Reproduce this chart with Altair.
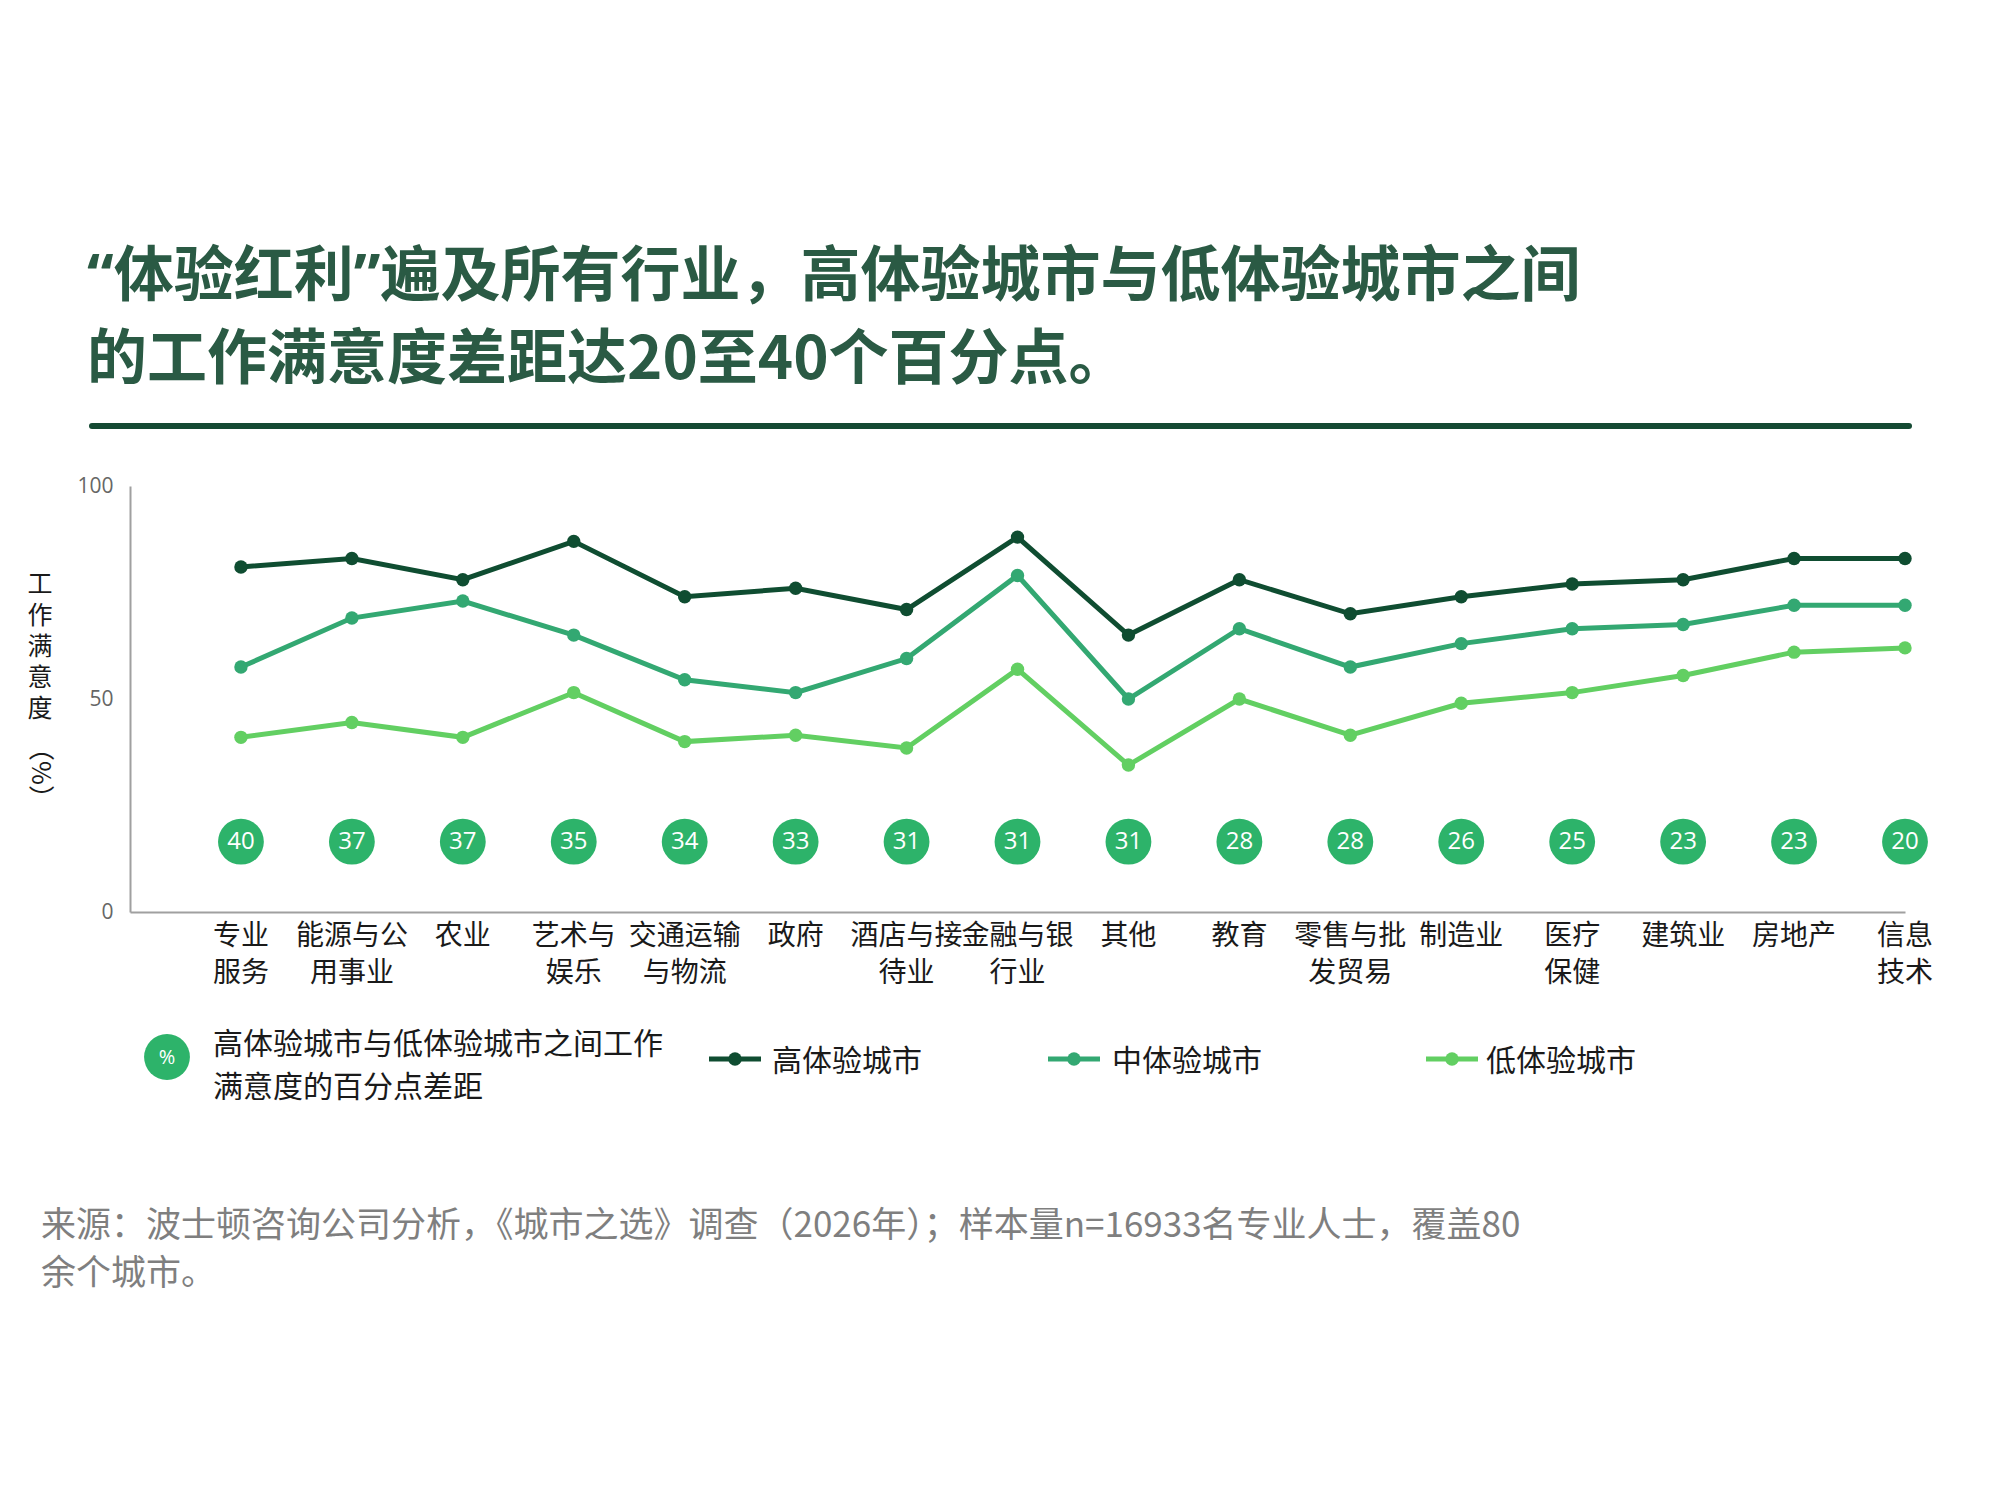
import altair as alt
import pandas as pd

# ---- data ----
categories = ["专业\n服务", "能源与公\n用事业", "农业", "艺术与\n娱乐", "交通运输\n与物流", "政府",
              "酒店与接\n待业", "金融与银\n行业", "其他", "教育", "零售与批\n发贸易", "制造业",
              "医疗\n保健", "建筑业", "房地产", "信息\n技术"]
high = [81, 83, 78, 87, 74, 76, 71, 88, 65, 78, 70, 74, 77, 78, 83, 83]
mid = [57.5, 69, 73, 65, 54.5, 51.5, 59.5, 79, 50, 66.5, 57.5, 63, 66.5, 67.5, 72, 72]
low = [41, 44.5, 41, 51.5, 40, 41.5, 38.5, 57, 34.5, 50, 41.5, 49, 51.5, 55.5, 61, 62]
gap = [40, 37, 37, 35, 34, 33, 31, 31, 31, 28, 28, 26, 25, 23, 23, 20]
series_names = ["高体验城市", "中体验城市", "低体验城市"]
series_colors = ["#0f4d31", "#33a872", "#62cf62"]
y_ticks = [0, 50, 100]
badge_level = 16.5

title_lines = ["“体验红利”遍及所有行业，高体验城市与低体验城市之间",
               "的工作满意度差距达20至40个百分点。"]
source_lines = ["来源：波士顿咨询公司分析，《城市之选》调查（2026年）；样本量n=16933名专业人士，覆盖80",
                "余个城市。"]
gap_legend = "高体验城市与低体验城市之间工作\n满意度的百分点差距"
y_title_chars = ["工", "作", "满", "意", "度"]
y_title_unit = "（%）"

FONT = "Noto Sans CJK SC"
W, H = 1775, 426

idx = list(range(1, len(categories) + 1))
rows = []
for name, vals in zip(series_names, [high, mid, low]):
    for i, v in zip(idx, vals):
        rows.append({"idx": i, "series": name, "value": v})
df_lines = pd.DataFrame(rows)
df_cat = pd.DataFrame({"idx": idx, "label": categories, "gap": [str(g) for g in gap]})

xscale = alt.Scale(domain=[0, 16], nice=False, zero=False)
yscale = alt.Scale(domain=[0, 100], nice=False)
cscale = alt.Scale(domain=series_names, range=series_colors)

x_enc = alt.X("idx:Q", scale=xscale,
              axis=alt.Axis(labels=False, ticks=False, grid=False, title=None,
                            domainColor="#a0a0a0", domainWidth=2))
y_enc = alt.Y("value:Q", scale=yscale,
              axis=alt.Axis(values=y_ticks, grid=False, title=None, ticks=False,
                            labelPadding=17, labelFontSize=21, labelColor="#666666",
                            labelFont="Open Sans", domainColor="#a0a0a0", domainWidth=2))

base = alt.Chart(df_lines)
lines = base.mark_line(strokeWidth=5).encode(
    x=x_enc, y=y_enc,
    color=alt.Color("series:N", scale=cscale, legend=None),
    detail="series:N")
points = base.mark_circle(size=180, opacity=1).encode(
    x=alt.X("idx:Q", scale=xscale), y=alt.Y("value:Q", scale=yscale),
    color=alt.Color("series:N", scale=cscale, legend=None))

cat = alt.Chart(df_cat)
badges = cat.mark_circle(size=2100, color="#2db36a", opacity=1).encode(
    x=alt.X("idx:Q", scale=xscale), y=alt.datum(badge_level, scale=yscale))
badge_txt = cat.mark_text(font="Open Sans", fontSize=24, color="white", baseline="middle").encode(
    x=alt.X("idx:Q", scale=xscale), y=alt.datum(badge_level, scale=yscale), text="gap:N")
xlabels = cat.mark_text(font=FONT, fontSize=28, color="#1a1a1a", baseline="top",
                        lineBreak="\n", lineHeight=37, align="center").encode(
    x=alt.X("idx:Q", scale=xscale), y=alt.value(H + 11), text="label:N")


def txt(text, x, y, **kw):
    return alt.Chart(pd.DataFrame({"t": [text]})).mark_text(**kw).encode(
        text="t:N", x=alt.value(x), y=alt.value(y))


one = pd.DataFrame({"a": [0]})

title1 = txt(title_lines[0], -43, -208, font="Noto Sans, Noto Sans CJK SC", fontSize=60,
             fontWeight="bold", color="#2a5a44", align="left", baseline="middle")
title2 = txt(title_lines[1], -43, -125, font=FONT, fontSize=60, fontWeight="bold",
             color="#2a5a44", align="left", baseline="middle")
rule = alt.Chart(one).mark_rule(color="#154a33", strokeWidth=6, strokeCap="round").encode(
    x=alt.value(-38), x2=alt.value(1779), y=alt.value(-60))

ytitle = [txt(ch, -90, 99 + 31 * k, font=FONT, fontSize=25, color="#1a1a1a",
              align="center", baseline="middle") for k, ch in enumerate(y_title_chars)]
ytitle2 = txt(y_title_unit, -90, 287, font=FONT, fontSize=26, color="#1a1a1a",
              angle=90, align="center", baseline="middle")

# legend
leg_badge = alt.Chart(one).mark_circle(size=2100, color="#2db36a", opacity=1).encode(
    x=alt.value(37), y=alt.value(571))
leg_badge_t = txt("%", 37, 572, font="Open Sans", fontSize=20, color="white",
                  align="center", baseline="middle")
leg_gap_t = txt(gap_legend, 83, 544, font=FONT, fontSize=30, color="#1a1a1a",
                lineBreak="\n", lineHeight=43, align="left", baseline="top")

legend_layers = []
for name, col, x0, xt in zip(series_names, series_colors, [579, 918, 1296], [642, 982, 1356]):
    legend_layers.append(alt.Chart(one).mark_rule(color=col, strokeWidth=5).encode(
        x=alt.value(x0), x2=alt.value(x0 + 52), y=alt.value(573)))
    legend_layers.append(alt.Chart(one).mark_circle(size=180, color=col, opacity=1).encode(
        x=alt.value(x0 + 26), y=alt.value(573)))
    legend_layers.append(txt(name, xt, 576, font=FONT, fontSize=30, color="#1a1a1a",
                             align="left", baseline="middle"))

src1 = txt(source_lines[0], -89, 740, font=FONT, fontSize=35, color="#7f7f7f",
           align="left", baseline="middle")
src2 = txt(source_lines[1], -89, 788, font=FONT, fontSize=35, color="#7f7f7f",
           align="left", baseline="middle")

chart = alt.layer(
    lines, points, badges, badge_txt, xlabels,
    title1, title2, rule, *ytitle, ytitle2,
    leg_badge, leg_badge_t, leg_gap_t, *legend_layers,
    src1, src2,
).properties(
    width=W, height=H,
    padding={"left": 122, "top": 478, "right": 87, "bottom": 580},
    autosize=alt.AutoSizeParams(type="none"),
    background="white",
).configure_view(stroke=None)

chart.save("out.html", embed_options={"renderer": "svg", "actions": False})
